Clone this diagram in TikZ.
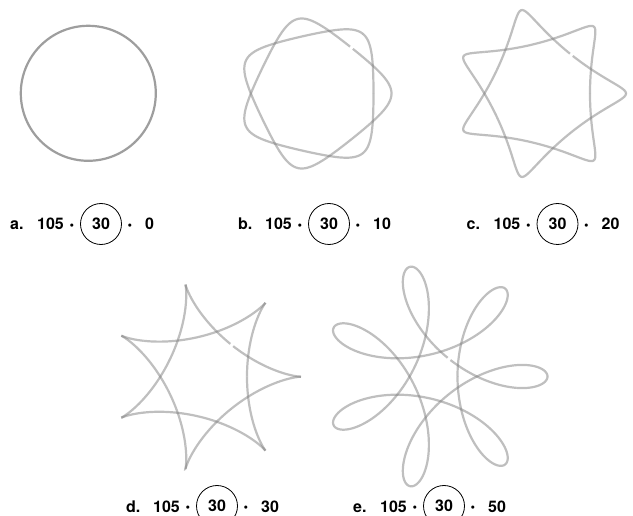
\documentclass[tikz,border=0pt]{standalone}
\usepackage{fontspec}
\setmainfont{TeX Gyre Heros}
\newcommand\spiro[2]{%
  \pgfmathsetmacro\tStart{51.4286+#2}%
  \pgfmathsetmacro\tStep{(720-2*#2)/28}%
  \foreach \k in {0,...,27}{%
    \pgfmathsetmacro\ta{\tStart+\k*\tStep}%
    \pgfmathsetmacro\tb{\ta+\tStep}%
    \draw[spiroline] plot[domain=\ta:\tb, samples=30]
      ({75*cos(\x)+#1*cos(2.5*\x)},{75*sin(\x)-#1*sin(2.5*\x)});
  }%
}
\newcommand\speclabel[5]{% name, letter, cx, cy, last number
  \pgfmathsetmacro\bl{-(#4)-6}%
  \node[lbl, anchor=base west] (#1-letter) at ({#3-91},\bl) {#2};
  \node[lbl, anchor=base west] (#1-big) at ({#3-64},\bl) {105};
  \node[lbl, anchor=base, font=\fontsize{13}{15}\selectfont\bfseries] (#1-dotA) at ({#3-29},{\bl+0.5}) {•};
  \node[ring] (#1-ring) at (#3,{-(#4)}) {30};
  \node[lbl, anchor=base, font=\fontsize{13}{15}\selectfont\bfseries] (#1-dotB) at ({#3+29},{\bl+0.5}) {•};
  \node[lbl, anchor=base west] (#1-last) at ({#3+44},\bl) {#5};
}
\begin{document}
\begin{tikzpicture}[x=1pt,y=1pt,
  spiroline/.style={draw=black!50, opacity=0.5, line width=2.2pt},
  circleline/.style={draw=black!38, line width=2.2pt},
  lbl/.style={inner sep=0pt, font=\fontsize{16}{19}\selectfont\bfseries},
  ring/.style={circle, draw=black, line width=0.8pt, minimum size=41pt, inner sep=0pt, font=\fontsize{16}{19}\selectfont\bfseries}]
\useasboundingbox (0,0) rectangle (633,-516);
\clip (0,0) rectangle (633,-516);
\fill[white] (0,0) rectangle (633,-516);
% a
\draw[circleline] (88.3,-93.3) circle[radius=67.5];
% b
\begin{scope}[shift={(315,-93.5)}, scale=0.9]
  \spiro{10}{1.15}
\end{scope}
% c
\begin{scope}[shift={(540.5,-93.5)}, scale=0.9]
  \spiro{20}{0.92}
\end{scope}
% d
\begin{scope}[shift={(206.5,-376.7)}, scale=0.9]
  \spiro{30}{0.76}
\end{scope}
% e
\begin{scope}[shift={(435,-376.5)}, scale=0.9]
  \spiro{50}{0.57}
\end{scope}
% labels
\speclabel{la}{a.}{101}{224}{0}
\speclabel{lb}{b.}{329}{224}{10}
\speclabel{lc}{c.}{557.5}{224}{20}
\speclabel{ld}{d.}{217}{506}{30}
\speclabel{le}{e.}{444}{506}{50}
\end{tikzpicture}
\end{document}
